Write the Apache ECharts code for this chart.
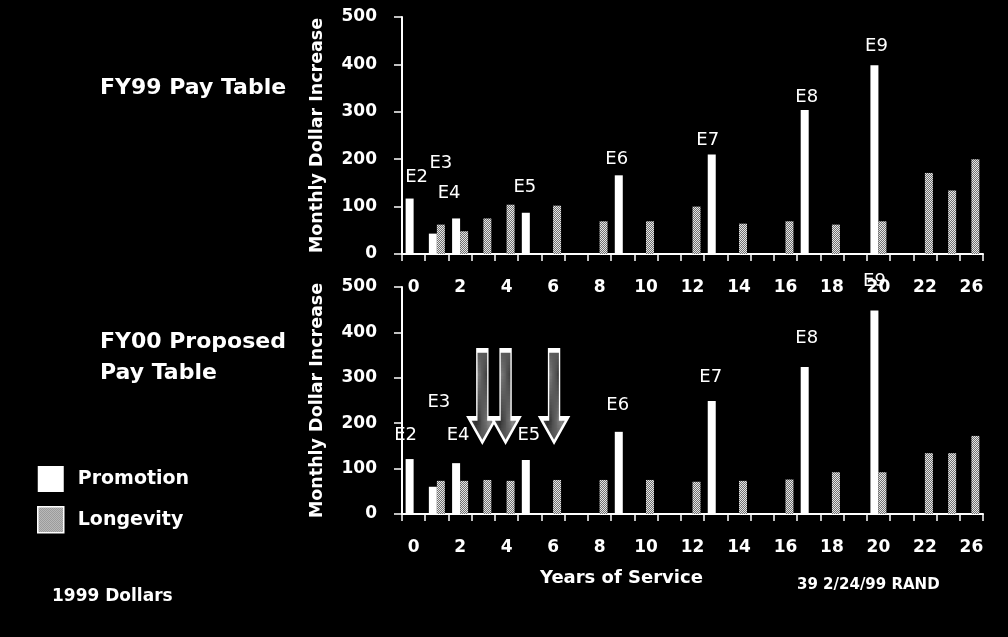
<!DOCTYPE html>
<html>
<head>
<meta charset="utf-8">
<script src="https://cdn.jsdelivr.net/npm/echarts@6/dist/echarts.min.js"></script>
<style>
  html, body { margin: 0; padding: 0; background: #000; }
  #chart { width: 1008px; height: 637px; }
</style>
</head>
<body>
<div id="chart"></div>
<script>
// years of service (category axis, labels on every other one)
const years = ['0','1','2','3','4','5','6','7','8','9','10','11','12','13','14','15','16','17','18','19','20','21','22','24','26'];

// FY99 pay table
const fy99Promotion = [117, 43, 75, null, null, 87, null, null, null, 166, null, null, null, 210, null, null, null, 304, null, null, 398, null, null, null, null];
const fy99Longevity = [null, 62, 48, 75, 104, null, 102, null, 69, null, 69, null, 100, null, 64, null, 69, null, 62, null, 69, null, 171, 134, 200];

// FY00 proposed pay table
const fy00Promotion = [121, 60, 112, null, null, 119, null, null, null, 181, null, null, null, 249, null, null, null, 324, null, null, 448, null, null, null, null];
const fy00Longevity = [null, 73, 73, 75, 73, null, 75, null, 75, null, 75, null, 71, null, 73, null, 76, null, 92, null, 92, null, 134, 134, 172];

// pay grade reached at each promotion
const grades = ['E2', 'E3', 'E4', null, null, 'E5', null, null, null, 'E6', null, null, null, 'E7', null, null, null, 'E8', null, null, 'E9', null, null, null, null];

// arrows marking the longevity steps that were moved
const arrowYears = ['3', '4', '6'];

// label nudges (px), keyed by category index
const fy99LabelShift = { 0: [7, -7], 1: [8, -56], 2: [-7, -11], 5: [-1, -11], 9: [-2, -2], 13: [-4, 0], 17: [2, 1], 20: [2, -5] };
const fy00LabelShift = { 0: [-4, -10], 1: [6, -70], 2: [2, -14], 5: [3, -11], 9: [-1, -12], 13: [-1, -10], 17: [2, -15], 20: [0, -15] };
const arrowShift = [-5, -5, -3];

const FONT = '"DejaVu Sans", Verdana, sans-serif';

function stipple(light, dark) {
  const c = document.createElement('canvas');
  c.width = 2; c.height = 2;
  const g = c.getContext('2d');
  g.fillStyle = dark; g.fillRect(0, 0, 2, 2);
  g.fillStyle = light; g.fillRect(0, 0, 1, 1); g.fillRect(1, 1, 1, 1);
  return { image: c, repeat: 'repeat' };
}

const longevityFill = stipple('#e6e6e6', '#707070');
const arrowFill = stipple('#8a8a8a', '#2a2a2a');

function promoData(values, shift) {
  return values.map((v, i) => {
    if (v == null) return '-';
    if (!grades[i]) return v;
    return {
      value: v,
      label: { show: true, position: 'top', formatter: grades[i], offset: shift[i] || [0, 0] }
    };
  });
}

const myChart = echarts.init(document.getElementById('chart'));

const xAxisBase = {
  type: 'category',
  data: years,
  axisLine: { lineStyle: { color: '#fff', width: 2 } },
  axisTick: { show: true, interval: 0, length: 7, lineStyle: { color: '#fff', width: 1.5 } },
  axisLabel: { color: '#fff', fontSize: 17, fontWeight: 'bold', fontFamily: FONT, interval: 1, margin: 25 },
  splitLine: { show: false }
};

const yAxisBase = {
  type: 'value',
  min: 0,
  max: 500,
  interval: 100,
  name: 'Monthly Dollar Increase',
  nameLocation: 'middle',
  nameGap: 76,
  nameTextStyle: { color: '#fff', fontSize: 17.5, fontWeight: 'bold', fontFamily: FONT },
  axisLine: { show: true, lineStyle: { color: '#fff', width: 2 } },
  axisTick: { show: true, length: 8, lineStyle: { color: '#fff', width: 1.5 } },
  axisLabel: { color: '#fff', fontSize: 17, fontWeight: 'bold', fontFamily: FONT, margin: 25 },
  splitLine: { show: false }
};

const barLabel = { color: '#fff', fontSize: 18, fontFamily: FONT, distance: 5 };

const option = {
  backgroundColor: '#000',
  animation: false,
  textStyle: { fontFamily: FONT },
  grid: [
    { left: 402, width: 581, top: 17, height: 237 },
    { left: 402, width: 581, top: 287, height: 227 }
  ],
  xAxis: [
    Object.assign({ gridIndex: 0 }, xAxisBase),
    Object.assign({ gridIndex: 1 }, xAxisBase)
  ],
  yAxis: [
    Object.assign({ gridIndex: 0 }, yAxisBase),
    Object.assign({ gridIndex: 1 }, yAxisBase)
  ],
  legend: {
    orient: 'vertical',
    left: 32,
    top: 461,
    itemWidth: 26,
    itemHeight: 26,
    itemGap: 14,
    icon: 'rect',
    data: ['Promotion', { name: 'Longevity', itemStyle: { borderColor: '#fff', borderWidth: 1.5 } }],
    textStyle: { color: '#fff', fontSize: 19, fontWeight: 'bold', fontFamily: FONT, padding: [0, 0, 0, 9] }
  },
  series: [
    {
      name: 'Promotion', type: 'bar', xAxisIndex: 0, yAxisIndex: 0,
      barWidth: 8, barGap: '0%',
      itemStyle: { color: '#fff' },
      label: barLabel,
      data: promoData(fy99Promotion, fy99LabelShift)
    },
    {
      name: 'Longevity', type: 'bar', xAxisIndex: 0, yAxisIndex: 0,
      barWidth: 8, barGap: '0%',
      itemStyle: { color: longevityFill },
      data: fy99Longevity.map(v => v == null ? '-' : v)
    },
    {
      name: 'Promotion', type: 'bar', xAxisIndex: 1, yAxisIndex: 1,
      barWidth: 8, barGap: '0%',
      itemStyle: { color: '#fff' },
      label: barLabel,
      data: promoData(fy00Promotion, fy00LabelShift)
    },
    {
      name: 'Longevity', type: 'bar', xAxisIndex: 1, yAxisIndex: 1,
      barWidth: 8, barGap: '0%',
      itemStyle: { color: longevityFill },
      data: fy00Longevity.map(v => v == null ? '-' : v),
      markPoint: {
        silent: true,
        symbol: 'path://M8,0 L19,0 L19,68 L27,68 L13.5,92 L0,68 L8,68 Z',
        symbolSize: [27, 92],
        label: { show: false },
        itemStyle: { color: arrowFill, borderColor: '#fff', borderWidth: 2.5 },
        data: arrowYears.map((y, i) => ({ coord: [y, 259], symbolOffset: [arrowShift[i], 0] }))
      }
    }
  ],
  graphic: [
    { type: 'text', x: 100, y: 88, style: { text: 'FY99 Pay Table', fill: '#fff', font: 'bold 22px ' + FONT, verticalAlign: 'middle' } },
    { type: 'text', x: 100, y: 358, style: { text: 'FY00 Proposed\nPay Table', fill: '#fff', font: 'bold 22px ' + FONT, lineHeight: 31, verticalAlign: 'middle' } },
    { type: 'text', x: 540, y: 578, style: { text: 'Years of Service', fill: '#fff', font: 'bold 18px ' + FONT, verticalAlign: 'middle' } },
    { type: 'text', x: 797, y: 585, style: { text: '39 2/24/99 RAND', fill: '#fff', font: 'bold 15px ' + FONT, verticalAlign: 'middle' } },
    { type: 'text', x: 52, y: 597, style: { text: '1999 Dollars', fill: '#fff', font: 'bold 17px ' + FONT, verticalAlign: 'middle' } }
  ]
};

myChart.setOption(option);
window.addEventListener('resize', () => myChart.resize());
</script>
</body>
</html>
